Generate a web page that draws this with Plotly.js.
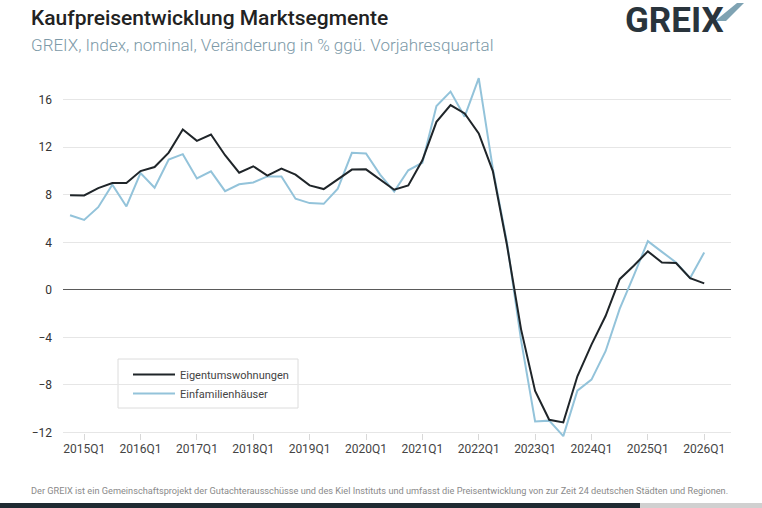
<!DOCTYPE html>
<html>
<head>
<meta charset="utf-8">
<script src="https://cdn.plot.ly/plotly-3.0.1.min.js"></script>
<style>
  html, body { margin: 0; padding: 0; background: #fff; }
  #chart { width: 762px; height: 508px; }
</style>
</head>
<body>
<div id="chart"></div>
<script>
// Quarters (x categories)
const quarters = [
  "2014Q4",
  "2015Q1","2015Q2","2015Q3","2015Q4",
  "2016Q1","2016Q2","2016Q3","2016Q4",
  "2017Q1","2017Q2","2017Q3","2017Q4",
  "2018Q1","2018Q2","2018Q3","2018Q4",
  "2019Q1","2019Q2","2019Q3","2019Q4",
  "2020Q1","2020Q2","2020Q3","2020Q4",
  "2021Q1","2021Q2","2021Q3","2021Q4",
  "2022Q1","2022Q2","2022Q3","2022Q4",
  "2023Q1","2023Q2","2023Q3","2023Q4",
  "2024Q1","2024Q2","2024Q3","2024Q4",
  "2025Q1","2025Q2","2025Q3","2025Q4",
  "2026Q1"
];

// Eigentumswohnungen (% change vs. previous-year quarter)
const eigentumswohnungen = [
  7.97,
  7.95, 8.56, 8.99, 9.00,
  10.00, 10.34, 11.55, 13.50,
  12.54, 13.07, 11.33, 9.86,
  10.40, 9.61, 10.20, 9.70,
  8.79, 8.48, 9.33, 10.12,
  10.14, 9.30, 8.43, 8.79,
  10.90, 14.14, 15.55, 14.85,
  13.16, 10.00, 3.80, -3.30,
  -8.50, -10.93, -11.15, -7.27,
  -4.60, -2.20, 0.90, 2.03,
  3.24, 2.31, 2.26, 0.99,
  0.55
];

// Einfamilienhäuser
const einfamilienhaeuser = [
  6.28,
  5.89, 6.96, 8.85, 7.02,
  9.83, 8.60, 10.96, 11.42,
  9.38, 9.97, 8.31, 8.88,
  9.04, 9.55, 9.55, 7.67,
  7.30, 7.24, 8.51, 11.53,
  11.48, 9.70, 8.28, 10.06,
  10.70, 15.47, 16.68, 14.57,
  17.81, 10.20, 4.00, -4.20,
  -11.07, -11.00, -12.30, -8.48,
  -7.55, -5.16, -1.60, 1.20,
  4.10, 3.20, 2.30, 1.00,
  3.15
];

// Tick labels
const tickQuarters = ["2015Q1","2016Q1","2017Q1","2018Q1","2019Q1","2020Q1","2021Q1","2022Q1","2023Q1","2024Q1","2025Q1","2026Q1"];
const yTicks = [-12, -8, -4, 0, 4, 8, 12, 16];

const seriesNames = ["Eigentumswohnungen", "Einfamilienhäuser"];
const FONT = "Roboto, 'Open Sans', sans-serif";

const traces = [
  {
    x: quarters, y: eigentumswohnungen, name: seriesNames[0],
    type: "scatter", mode: "lines",
    line: { color: "#1f2529", width: 2 }
  },
  {
    x: quarters, y: einfamilienhaeuser, name: seriesNames[1],
    type: "scatter", mode: "lines",
    line: { color: "#93c3da", width: 2 }
  }
];
// draw blue first, black on top
const data = [traces[1], traces[0]];
data[0].legendrank = 2;
data[1].legendrank = 1;

const L = 63, R = 731, T = 70, B = 440, W = 762, H = 508;
const px = (x) => (x - L) / (R - L);
const py = (y) => (B - y) / (B - T);

const layout = {
  width: W, height: H,
  margin: { l: L, r: W - R, t: T, b: H - B, pad: 0 },
  paper_bgcolor: "#fff",
  plot_bgcolor: "#fff",
  font: { family: FONT, color: "#333", size: 12 },
  showlegend: true,
  legend: {
    x: px(128), y: py(360), xanchor: "left", yanchor: "top",
    bgcolor: "rgba(0,0,0,0)", borderwidth: 0,
    font: { family: FONT, size: 11, color: "#444" },
    traceorder: "normal",
    tracegroupgap: 0,
    itemwidth: 42
  },
  xaxis: {
    type: "category",
    range: [-0.5, 46.9],
    tickmode: "array",
    tickvals: tickQuarters,
    ticktext: tickQuarters,
    ticks: "inside", ticklen: 6, tickcolor: "#d8d8d8", tickwidth: 1,
    showgrid: false, zeroline: false, showline: false,
    tickfont: { family: FONT, size: 12, color: "#444" },
    fixedrange: true
  },
  yaxis: {
    range: [-12.63, 18.5],
    tickmode: "array",
    tickvals: yTicks,
    ticktext: yTicks.map(v => v < 0 ? "\u2212" + Math.abs(v) : String(v)),
    showgrid: true, gridcolor: "#e6e6e6", gridwidth: 1,
    zeroline: true, zerolinecolor: "#5a5a5a", zerolinewidth: 1,
    showline: false, ticks: "",
    ticklabelstandoff: 10,
    tickfont: { family: FONT, size: 12, color: "#333" },
    fixedrange: true
  },
  annotations: [
    {
      xref: "paper", yref: "paper", x: px(29), y: py(18),
      xanchor: "left", yanchor: "middle", showarrow: false,
      text: "Kaufpreisentwicklung Marktsegmente",
      font: { family: FONT, size: 21, color: "#222", weight: 500 }
    },
    {
      xref: "paper", yref: "paper", x: px(29), y: py(45),
      xanchor: "left", yanchor: "middle", showarrow: false,
      text: "GREIX, Index, nominal, Veränderung in % ggü. Vorjahresquartal",
      font: { family: FONT, size: 17, color: "#7d9aa8", weight: 300 }
    },
    {
      xref: "paper", yref: "paper", x: px(623), y: py(20),
      xanchor: "left", yanchor: "middle", showarrow: false,
      text: "<b>GREIX</b>",
      font: { family: FONT, size: 35, color: "#29343c" }
    },
    {
      xref: "paper", yref: "paper", x: px(29), y: py(490),
      xanchor: "left", yanchor: "middle", showarrow: false,
      text: "Der GREIX ist ein Gemeinschaftsprojekt der Gutachterausschüsse und des Kiel Instituts und umfasst die Preisentwicklung von zur Zeit 24 deutschen Städten und Regionen.",
      font: { family: FONT, size: 9.2, color: "#8a8a8a" }
    }
  ],
  shapes: [
    {
      type: "rect", xref: "paper", yref: "paper", layer: "between",
      x0: px(118), x1: px(298), y0: py(408), y1: py(359),
      fillcolor: "#fff", line: { color: "#dcdcdc", width: 1 }
    },
    {
      type: "path", xref: "paper", yref: "paper",
      path: "M " + px(715) + "," + py(21) + " L " + px(726) + "," + py(21) +
            " L " + px(744) + "," + py(3) + " L " + px(737) + "," + py(3) + " Z",
      fillcolor: "#7fa3b3", line: { width: 0 }
    },
    {
      type: "rect", xref: "paper", yref: "paper",
      x0: px(0), x1: px(640), y0: py(503), y1: py(508),
      fillcolor: "#1f2a32", line: { width: 0 }
    },
    {
      type: "rect", xref: "paper", yref: "paper",
      x0: px(640), x1: px(762), y0: py(503), y1: py(508),
      fillcolor: "#d0d0d0", line: { width: 0 }
    }
  ]
};

Plotly.newPlot("chart", data, layout, { displayModeBar: false, staticPlot: true });
</script>
</body>
</html>
